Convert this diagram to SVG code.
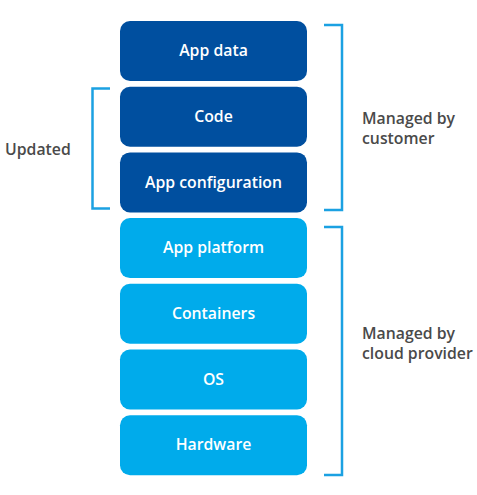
<svg xmlns="http://www.w3.org/2000/svg" width="477" height="495" viewBox="0 0 477 495">
<style>
.dark{fill:#004f9f}
.light{fill:#00abeb}
.bt{font-family:"Open Sans","Noto Sans",sans-serif;font-weight:600;font-size:15.8px;fill:#fff;text-anchor:middle}
.lbl{font-family:"Open Sans","Noto Sans",sans-serif;font-weight:600;font-size:15.8px;fill:#4a4a4a}
.br{fill:none;stroke:#1ba1e2;stroke-width:2.5}
</style>
<rect width="477" height="495" fill="#fff"/>
<g id="app-data"><rect class="dark" x="120" y="21" width="187" height="60" rx="10"/><text class="bt" x="213.5" y="56">App data</text></g>
<g id="code"><rect class="dark" x="120" y="86.7" width="187" height="60" rx="10"/><text class="bt" x="213.5" y="122">Code</text></g>
<g id="app-configuration"><rect class="dark" x="120" y="152.4" width="187" height="60" rx="10"/><text class="bt" x="213.5" y="188">App configuration</text></g>
<g id="app-platform"><rect class="light" x="120" y="218.1" width="187" height="60" rx="10"/><text class="bt" x="213.5" y="253">App platform</text></g>
<g id="containers"><rect class="light" x="120" y="283.8" width="187" height="60" rx="10"/><text class="bt" x="213.5" y="319">Containers</text></g>
<g id="os"><rect class="light" x="120" y="349.5" width="187" height="60" rx="10"/><text class="bt" x="213.5" y="385">OS</text></g>
<g id="hardware"><rect class="light" x="120" y="415.2" width="187" height="60" rx="10"/><text class="bt" x="213.5" y="450">Hardware</text></g>
<g id="connectors">
<path class="br" d="M324 25 H342 V210 H324"/>
<path class="br" d="M324 227 H342 V475 H324"/>
<path class="br" d="M110 88.5 H92.5 V208.5 H110"/>
</g>
<g id="labels">
<text class="lbl" x="5" y="155">Updated</text>
<text class="lbl" x="362" y="124">Managed by</text>
<text class="lbl" x="362" y="144">customer</text>
<text class="lbl" x="362" y="339">Managed by</text>
<text class="lbl" x="362" y="359">cloud provider</text>
</g>
</svg>
